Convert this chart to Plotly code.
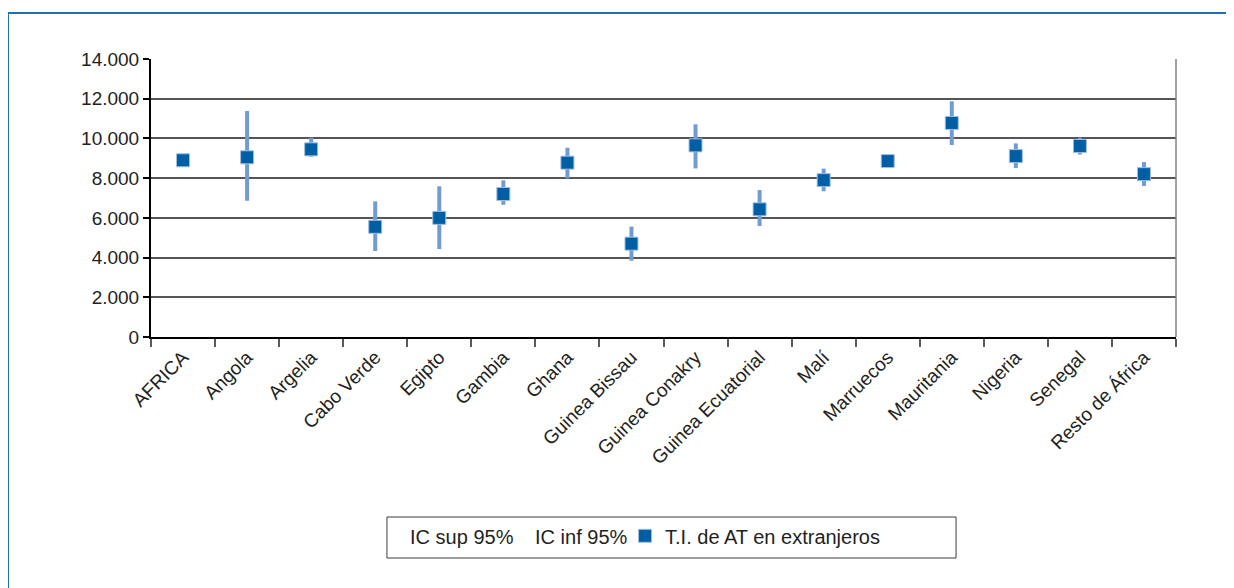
import plotly.graph_objects as go

#### Datos ####
categorias = ['AFRICA', 'Angola', 'Argelia', 'Cabo Verde', 'Egipto', 'Gambia', 'Ghana',
              'Guinea Bissau', 'Guinea Conakry', 'Guinea Ecuatorial', 'Malí', 'Marruecos',
              'Mauritania', 'Nigeria', 'Senegal', 'Resto de África']
ti_at = [8900, 9050, 9450, 5550, 6000, 7200, 8780, 4700, 9650, 6430, 7900, 8860, 10780, 9110, 9620, 8200]
ic_sup = [8950, 11380, 10040, 6830, 7590, 7890, 9530, 5560, 10710, 7400, 8480, 8900, 11870, 9750, 10040, 8810]
ic_inf = [8850, 6860, 9080, 4330, 4430, 6660, 7990, 3840, 8490, 5590, 7340, 8820, 9670, 8510, 9190, 7610]

err_plus = [s - v for s, v in zip(ic_sup, ti_at)]
err_minus = [v - i for v, i in zip(ti_at, ic_inf)]

font_family = 'Liberation Sans, Arial, sans-serif'
text_color = 'rgb(35,31,32)'

fig = go.Figure()

# series sin marca visible (solo para la leyenda)
fig.add_trace(go.Scatter(x=categorias, y=ic_sup, mode='lines', name='IC sup 95%',
                         line=dict(width=0, color='rgba(0,0,0,0)'), hoverinfo='skip',
                         legendwidth=80))
fig.add_trace(go.Scatter(x=categorias, y=ic_inf, mode='lines', name='IC inf 95%',
                         line=dict(width=0, color='rgba(0,0,0,0)'), hoverinfo='skip',
                         legendwidth=85))

# tasa con intervalo de confianza
fig.add_trace(go.Scatter(
    x=categorias, y=ti_at, mode='markers', name='T.I. de AT en extranjeros',
    marker=dict(symbol='square', size=13, color='rgb(0,94,164)',
                line=dict(width=1, color='rgb(160,190,225)')),
    error_y=dict(type='data', symmetric=False, array=err_plus, arrayminus=err_minus,
                 thickness=4, width=0, color='rgb(114,156,207)'),
))

fig.update_layout(
    width=1226, height=580, autosize=False,
    margin=dict(l=143, r=58, t=51, b=251, autoexpand=False),
    plot_bgcolor='white', paper_bgcolor='white',
    separators=',.',
    font=dict(family=font_family, size=19, color=text_color),
    xaxis=dict(
        type='category', range=[-0.5, len(categorias) - 0.5],
        showline=True, linecolor='black', linewidth=1.5,
        showgrid=False,
        ticks='outside', tickson='boundaries', ticklen=8, tickwidth=1.5, tickcolor='rgb(90,90,90)',
        tickangle=-45,
        tickfont=dict(family=font_family, size=19, color=text_color),
    ),
    yaxis=dict(
        range=[0, 14000], dtick=2000, tickformat=',d',
        showline=True, linecolor='black', linewidth=2,
        showgrid=True, gridcolor='rgb(85,85,85)', gridwidth=1.5,
        zeroline=False,
        ticks='outside', ticklen=6, tickwidth=1.5, tickcolor='black',
        tickfont=dict(family=font_family, size=19, color=text_color),
    ),
    showlegend=True,
    legend=dict(
        orientation='h', x=0.2137, xanchor='left', y=-0.645, yanchor='top',
        borderwidth=0, bgcolor='rgba(0,0,0,0)',
        font=dict(family=font_family, size=20, color=text_color),
        itemwidth=30,
    ),
    shapes=[
        # borde derecho del área de trazado
        dict(type='line', xref='paper', yref='paper', x0=1, x1=1, y0=0, y1=1,
             line=dict(color='rgb(130,130,130)', width=1.5)),
        # recuadro de la leyenda
        dict(type='rect', xref='paper', yref='paper', x0=0.2302, x1=0.7854, y0=-0.795, y1=-0.6475,
             line=dict(color='rgb(60,60,60)', width=1)),
        # marco exterior
        dict(type='rect', xref='paper', yref='paper', x0=-0.1395, x1=1.2, y0=-1.0, y1=1.1655,
             line=dict(color='rgb(30,112,178)', width=2)),
    ],
)

fig.write_html('out.html')
